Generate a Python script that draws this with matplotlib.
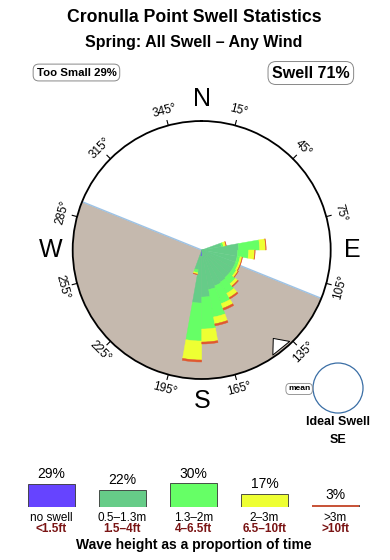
import numpy as np
import matplotlib
matplotlib.use("Agg")
import matplotlib.pyplot as plt
from matplotlib.patches import Ellipse

plt.rcParams['font.family'] = ['Liberation Sans', 'DejaVu Sans']

# swell rose data: 10 degree direction bins, cumulative radius of each height band
# (radius in units where the outer ring is 129)
directions = [75, 85, 95, 105, 115, 125, 135, 145, 155, 165, 175, 185, 195]
r_small = [20, 37, 36, 36, 36, 36, 36, 37, 38, 40, 47, 53, 20]      # 0.5-1.3m
r_mid = [22, 58, 47, 39, 39, 40, 44, 50, 57, 68, 79, 91, 23]        # 1.3-2m
r_big = [24.5, 64, 53, 41, 41, 42, 47, 55, 62, 75, 92, 110, 24.5]   # 2-3m
r_huge = [25, 64.5, 53.5, 41.5, 41.5, 42.5, 48, 56.5, 64, 77, 94, 112, 25]  # >3m
r_noswell = [0, 0, 0, 0, 0, 0, 0, 0, 0, 0, 0, 6, 0]
r_max = 129

# land sector (bearing range shaded)
land_from, land_to = 112, 292
ideal_dir = 141

# legend
band_labels = ['no swell', '0.5\u20131.3m', '1.3\u20132m', '2\u20133m', '>3m']
band_feet = ['<1.5ft', '1.5\u20134ft', '4\u20136.5ft', '6.5\u201310ft', '>10ft']
band_pct = [29, 22, 30, 17, 3]
band_colors = ['#6644FF', '#66CC88', '#66FF66', '#EEFF33', '#E0582F']

deg_ticks = [15, 45, 75, 105, 135, 165, 195, 225, 255, 285, 315, 345]
compass = {'N': 0, 'E': 90, 'S': 180, 'W': 270}

fig = plt.figure(figsize=(3.9, 5.6), dpi=100)

# titles
fig.text(0.497, 0.968, 'Cronulla Point Swell Statistics', ha='center', va='center',
         fontsize=12.7, fontweight='bold')
fig.text(0.497, 0.925, 'Spring: All Swell \u2013 Any Wind', ha='center', va='center',
         fontsize=11.5, fontweight='bold')
fig.text(0.196, 0.8705, 'Too Small 29%', ha='center', va='center', fontsize=8.2, fontweight='bold',
         bbox=dict(boxstyle='round,pad=0.3,rounding_size=0.5', fc='white', ec='#888888', lw=0.7))
fig.text(0.797, 0.8696, 'Swell 71%', ha='center', va='center', fontsize=11.5, fontweight='bold',
         bbox=dict(boxstyle='round,pad=0.25,rounding_size=0.5', fc='white', ec='#888888', lw=0.7))

# polar rose
ax = fig.add_axes([0.1864, 0.3232, 0.6615, 0.4607], projection='polar')
ax.set_theta_zero_location('N')
ax.set_theta_direction(-1)
ax.set_ylim(0, r_max)
ax.grid(False)
ax.set_xticks([])
ax.set_yticks([])
ax.spines['polar'].set_linewidth(1.3)

# land
th = np.radians(np.linspace(land_from, land_to, 200))
ax.fill_between(th, 0, r_max, color='#C5B9AE', lw=0, zorder=1)
ax.plot(np.radians([land_to, land_to, land_from]), [r_max, 0, r_max],
        color='#9DC3E6', lw=1, zorder=2)

theta = np.radians(directions)
w = np.radians(10)
inner = np.array(r_noswell)
for outer, col in zip([r_small, r_mid, r_big, r_huge], band_colors[1:]):
    outer = np.array(outer, dtype=float)
    ax.bar(theta, outer - inner, width=w, bottom=inner, color=col,
           edgecolor=col, lw=0.3, zorder=3)
    inner = outer
ax.bar(theta, r_noswell, width=w, bottom=0, color=band_colors[0], lw=0, zorder=4)

# ideal swell arrow
ax.annotate('', xy=(np.radians(ideal_dir), 111), xytext=(np.radians(ideal_dir), 127),
            arrowprops=dict(arrowstyle='simple,head_width=1.2,head_length=0.7,tail_width=0.7',
                            mutation_scale=13, fc='white', ec='black', lw=0.7),
            zorder=5, annotation_clip=False)

# degree ticks and labels
for d in deg_ticks:
    t = np.radians(d)
    ax.plot([t, t], [r_max, r_max + 5], color='black', lw=0.8, clip_on=False)
    rot = -d
    if 90 < d < 270:
        rot += 180
    elif d >= 270:
        rot += 360
    ax.text(t, 144, '%d\u00b0' % d, rotation=rot, rotation_mode='anchor',
            ha='center', va='center', fontsize=8.5, clip_on=False)
for lab, d in compass.items():
    ax.text(np.radians(d), 151, lab, ha='center', va='center', fontsize=18, clip_on=False)

# mean circle
fig.patches.append(Ellipse((0.8667, 0.3071), 50 / 390, 50 / 560, transform=fig.transFigure,
                           fc='white', ec='#3A6EA5', lw=0.9))
fig.text(0.767, 0.3054, 'mean', ha='center', va='center', fontsize=6, fontweight='bold',
         bbox=dict(boxstyle='round,pad=0.25,rounding_size=0.5', fc='white', ec='#888888', lw=0.6))
fig.text(0.8667, 0.2464, 'Ideal Swell', ha='center', va='center', fontsize=9, fontweight='bold')
fig.text(0.8667, 0.2143, 'SE', ha='center', va='center', fontsize=9, fontweight='bold')

# height legend as a small bar chart
lax = fig.add_axes([16 / 390, 1 - 507 / 560, 355 / 390, 40 / 560])
x = np.arange(len(band_pct))
lax.bar(x, band_pct, width=0.65, color=band_colors, edgecolor='#333333', lw=0.6)
lax.bar(x[-1:], band_pct[-1:], width=0.65, color='#C8553A', lw=0)
lax.set_xlim(-0.5, 4.5)
lax.set_ylim(0, 40 / 0.79)
lax.axis('off')
for xi, p in zip(x, band_pct):
    lax.annotate('%d%%' % p, (xi, p), xytext=(0, 2), textcoords='offset points',
                 ha='center', va='bottom', fontsize=10)
for xi, lab, ft in zip(x, band_labels, band_feet):
    xf = (16 + 71 * (xi + 0.5)) / 390
    fig.text(xf, 1 - 518 / 560, lab, ha='center', va='center', fontsize=8.5)
    fig.text(xf, 1 - 529.5 / 560, ft, ha='center', va='center', fontsize=8.5,
             fontweight='bold', color='#7A1414')
fig.text(0.497, 1 - 545 / 560, 'Wave height as a proportion of time', ha='center', va='center',
         fontsize=10, fontweight='bold')

fig.savefig('out.png', dpi=100)
